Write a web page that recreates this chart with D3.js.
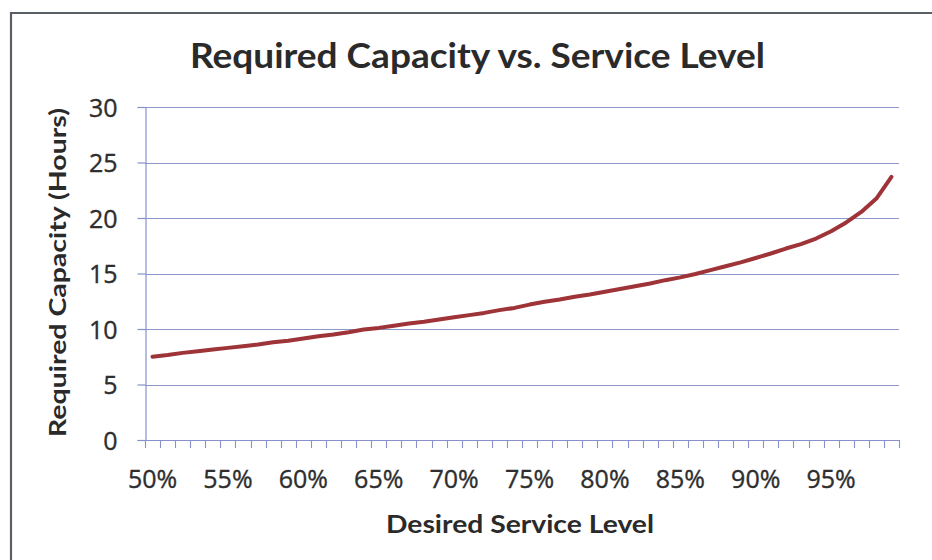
<!DOCTYPE html>
<html>
<head>
<meta charset="utf-8">
<script src="https://cdn.jsdelivr.net/npm/d3@7"></script>
<style>
  html, body { margin: 0; padding: 0; background: #ffffff; }
  svg { display: block; }
  text { font-family: Lato, "Open Sans", "DejaVu Sans", sans-serif; fill: #2a2a2a; }
</style>
</head>
<body>
<svg id="chart" width="932" height="560"></svg>
<script>
// ---- Data ----
const categories = [50, 51, 52, 53, 54, 55, 56, 57, 58, 59,
                    60, 61, 62, 63, 64, 65, 66, 67, 68, 69,
                    70, 71, 72, 73, 74, 75, 76, 77, 78, 79,
                    80, 81, 82, 83, 84, 85, 86, 87, 88, 89,
                    90, 91, 92, 93, 94, 95, 96, 97, 98, 99];
const capacityHours = [7.5, 7.65, 7.85, 8.0, 8.15, 8.3, 8.45, 8.6, 8.8, 8.95,
                       9.15, 9.35, 9.5, 9.7, 9.95, 10.1, 10.3, 10.5, 10.65, 10.85,
                       11.05, 11.25, 11.45, 11.7, 11.9, 12.2, 12.45, 12.65, 12.9, 13.1,
                       13.35, 13.6, 13.85, 14.1, 14.4, 14.65, 14.95, 15.3, 15.65, 16.0,
                       16.4, 16.8, 17.25, 17.65, 18.15, 18.8, 19.6, 20.55, 21.75, 23.7];
const xTickLabels = ["50%", "55%", "60%", "65%", "70%", "75%", "80%", "85%", "90%", "95%"];
const yTickValues = [0, 5, 10, 15, 20, 25, 30];
const titleText = "Required Capacity vs. Service Level";
const xTitleText = "Desired Service Level";
const yTitleText = "Required Capacity (Hours)";

// ---- Layout ----
const svg = d3.select("#chart");
const plot = { left: 145, right: 899, top: 107, bottom: 440 };
const tickFont = "'Open Sans', Lato, sans-serif";

const x = d3.scaleBand()
  .domain(categories)
  .range([plot.left, plot.right])
  .padding(0);
const y = d3.scaleLinear()
  .domain([0, 30])
  .range([plot.bottom, plot.top]);

const gridColor = "#8c98c8";
const axisColor = "#8891cc";

// Frame (top and left border of the chart area)
svg.append("line").attr("x1", 11).attr("x2", 932).attr("y1", 13).attr("y2", 13)
  .attr("stroke", "#5a5f66").attr("stroke-width", 2.2);
svg.append("line").attr("x1", 11).attr("x2", 11).attr("y1", 12).attr("y2", 560)
  .attr("stroke", "#5a5f66").attr("stroke-width", 2.2);

// Gridlines
svg.append("g").selectAll("line")
  .data(yTickValues.filter(v => v > 0))
  .join("line")
  .attr("x1", plot.left).attr("x2", plot.right)
  .attr("y1", d => Math.round(y(d)) + 0.5).attr("y2", d => Math.round(y(d)) + 0.5)
  .attr("stroke", gridColor).attr("stroke-width", 1.2);

// Y axis
const yAxis = d3.axisLeft(y).tickValues(yTickValues).tickSize(8).tickPadding(20);
const gy = svg.append("g").attr("transform", `translate(${plot.left + 0.5},0)`).call(yAxis);
gy.attr("font-family", null).attr("font-size", null);
gy.select(".domain").attr("stroke", axisColor).attr("stroke-width", 1.2);
gy.selectAll(".tick line").attr("stroke", axisColor).attr("stroke-width", 1.2);
gy.selectAll(".tick text")
  .style("font-family", tickFont)
  .style("font-size", "25px")
  .style("fill", "#2e2e2e")
  .style("stroke", "#2e2e2e").style("stroke-width", "0.35px")
  .attr("dy", "0.36em");

// X axis: minor ticks at category boundaries, labels every 5 categories
const boundaries = categories.map(c => x(c)).concat([x(categories[categories.length - 1]) + x.bandwidth()]);
svg.append("line")
  .attr("x1", plot.left).attr("x2", plot.right)
  .attr("y1", plot.bottom + 0.5).attr("y2", plot.bottom + 0.5)
  .attr("stroke", axisColor).attr("stroke-width", 1.2);
svg.append("g").selectAll("line")
  .data(boundaries)
  .join("line")
  .attr("x1", d => Math.round(d) + 0.5).attr("x2", d => Math.round(d) + 0.5)
  .attr("y1", plot.bottom).attr("y2", plot.bottom + 8)
  .attr("stroke", axisColor).attr("stroke-width", 1.1);

svg.append("g").selectAll("text")
  .data(xTickLabels)
  .join("text")
  .attr("x", d => x(parseInt(d, 10)) + x.bandwidth() / 2)
  .attr("y", 488)
  .attr("text-anchor", "middle")
  .style("font-family", tickFont)
  .style("font-size", "25px")
  .style("fill", "#2e2e2e")
  .style("stroke", "#2e2e2e").style("stroke-width", "0.35px")
  .text(d => d);

// Line
const line = d3.line()
  .x((d, i) => x(categories[i]) + x.bandwidth() / 2)
  .y(d => y(d))
  .curve(d3.curveLinear);
svg.append("path")
  .datum(capacityHours)
  .attr("d", line)
  .attr("fill", "none")
  .attr("stroke", "#9e3338")
  .attr("stroke-width", 4)
  .attr("stroke-linejoin", "round")
  .attr("stroke-linecap", "round");

// Titles
svg.append("text")
  .attr("x", 190).attr("y", 68)
  .attr("textLength", 575).attr("lengthAdjust", "spacingAndGlyphs")
  .style("font-size", "35px").style("font-weight", "bold")
  .text(titleText);

svg.append("text")
  .attr("x", 386).attr("y", 533)
  .attr("textLength", 268).attr("lengthAdjust", "spacingAndGlyphs")
  .style("font-size", "25px").style("font-weight", "bold")
  .text(xTitleText);

svg.append("text")
  .attr("transform", "translate(66,437) rotate(-90)")
  .attr("x", 0).attr("y", 0)
  .attr("textLength", 329).attr("lengthAdjust", "spacingAndGlyphs")
  .style("font-size", "23px").style("font-weight", "bold")
  .text(yTitleText);
</script>
</body>
</html>
